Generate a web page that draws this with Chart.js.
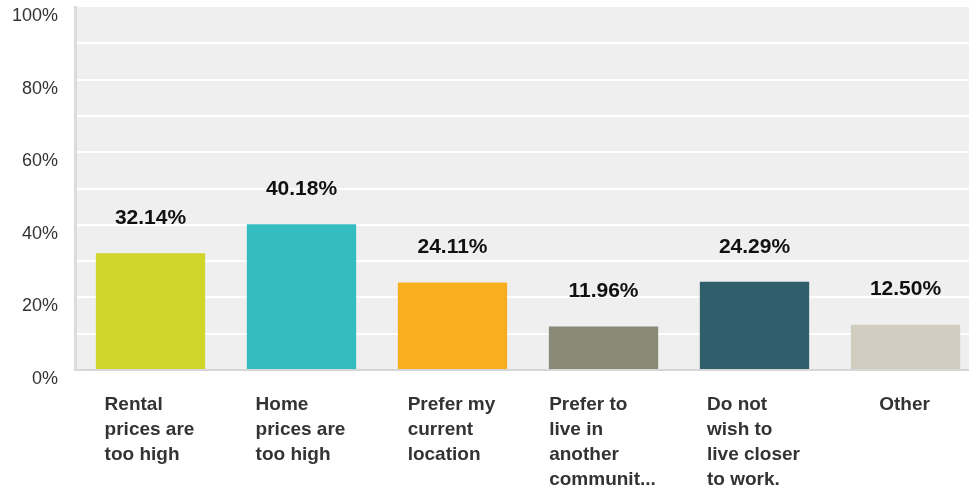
<!DOCTYPE html>
<html>
<head>
<meta charset="utf-8">
<script src="https://cdn.jsdelivr.net/npm/chart.js@4"></script>
<style>
  html, body { margin: 0; padding: 0; background: #fff; overflow: hidden; }
  #wrap { width: 981px; height: 491px; position: relative; }
</style>
</head>
<body>
<div id="wrap"><canvas id="chart"></canvas></div>
<script>
// data
var categories = [
    ['Rental', 'prices are', 'too high'],
    ['Home', 'prices are', 'too high'],
    ['Prefer my', 'current', 'location'],
    ['Prefer to', 'live in', 'another', 'communit...'],
    ['Do not', 'wish to', 'live closer', 'to work.'],
    ['Other']
];
var percents = [32.14, 40.18, 24.11, 11.96, 24.29, 12.50];
var barColors = ['#d0d52a', '#33bdc0', '#f7ae1f', '#898a78', '#2e5f6b', '#d0cdc0'];
var yTicks = [0, 20, 40, 60, 80, 100];

var FONT = '"Liberation Sans", Arial, sans-serif';

var plotBackground = {
    id: 'plotBackground',
    beforeDraw: function(chart) {
        var a = chart.chartArea;
        var ctx = chart.ctx;
        ctx.save();
        ctx.fillStyle = '#efefef';
        ctx.fillRect(a.left, a.top, a.right - a.left, a.bottom - a.top);
        ctx.restore();
    }
};

var valueLabels = {
    id: 'valueLabels',
    afterDatasetsDraw: function(chart) {
        var ctx = chart.ctx;
        var meta = chart.getDatasetMeta(0);
        ctx.save();
        ctx.font = 'bold 21px ' + FONT;
        ctx.fillStyle = '#111';
        ctx.textAlign = 'center';
        ctx.textBaseline = 'middle';
        meta.data.forEach(function(bar, i) {
            ctx.fillText(percents[i].toFixed(2) + '%', bar.x, bar.y - 35);
        });
        ctx.restore();
    }
};

// left-aligned line blocks, centred on each category
var categoryLabels = {
    id: 'categoryLabels',
    afterDraw: function(chart) {
        var ctx = chart.ctx;
        var xScale = chart.scales.x;
        ctx.save();
        ctx.font = 'bold 19px ' + FONT;
        ctx.fillStyle = '#333';
        ctx.textAlign = 'left';
        ctx.textBaseline = 'middle';
        categories.forEach(function(lines, i) {
            var cx = xScale.getPixelForValue(i);
            var w = 0;
            lines.forEach(function(l) { w = Math.max(w, ctx.measureText(l).width); });
            lines.forEach(function(l, j) {
                ctx.fillText(l, cx - w / 2 - 1, 405 + j * 25);
            });
        });
        ctx.restore();
    }
};

new Chart(document.getElementById('chart'), {
    type: 'bar',
    data: {
        labels: categories.map(function(c) { return c.join(' '); }),
        datasets: [{
            data: percents,
            backgroundColor: barColors,
            borderWidth: 0,
            barPercentage: 0.724,
            categoryPercentage: 1
        }]
    },
    options: {
        responsive: true,
        maintainAspectRatio: false,
        animation: false,
        events: [],
        layout: { padding: { top: 7, left: 0, right: 0, bottom: 0 } },
        plugins: {
            legend: { display: false },
            tooltip: { enabled: false }
        },
        scales: {
            x: {
                grid: { display: false, drawTicks: false },
                border: { display: true, color: '#d6d6d6', width: 2 },
                ticks: { display: false },
                afterFit: function(scale) { scale.height = 121; }
            },
            y: {
                min: 0,
                max: 100,
                ticks: {
                    stepSize: 10,
                    color: '#333',
                    padding: 17,
                    labelOffset: 9,
                    font: { family: FONT, size: 18 },
                    callback: function(v) {
                        return yTicks.indexOf(v) >= 0 ? v + '%' : '';
                    }
                },
                grid: {
                    drawTicks: false,
                    lineWidth: 2,
                    color: function(c) {
                        var v = c.tick ? c.tick.value : null;
                        return (v === 0 || v === 100) ? 'rgba(0,0,0,0)' : '#ffffff';
                    }
                },
                border: { display: true, color: '#dcdcdc', width: 3 },
                afterFit: function(scale) {
                    scale.width = 75;
                    scale.paddingTop = 0;
                    scale.paddingBottom = 0;
                }
            }
        }
    },
    plugins: [plotBackground, valueLabels, categoryLabels]
});
</script>
</body>
</html>
